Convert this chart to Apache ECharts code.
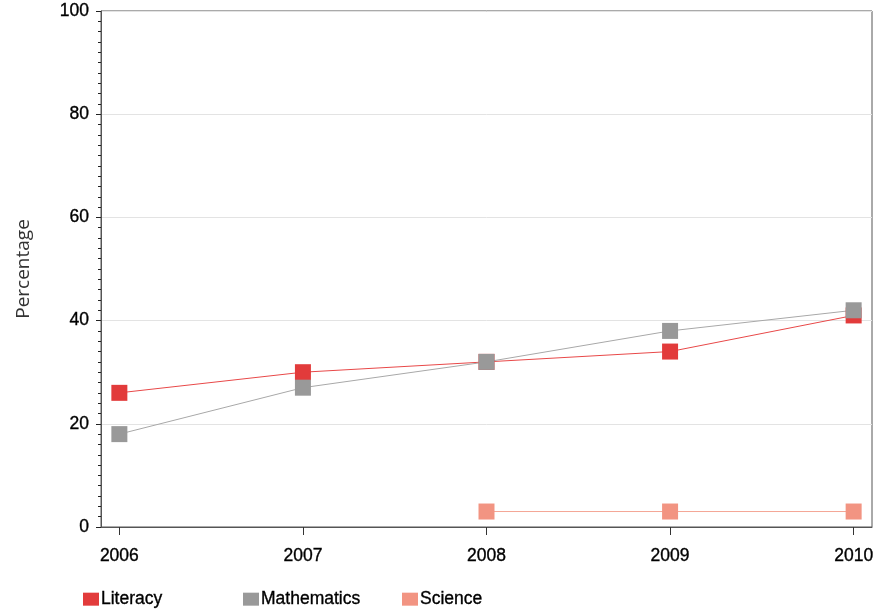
<!DOCTYPE html>
<html><head><meta charset="utf-8">
<script src="https://cdn.jsdelivr.net/npm/echarts@6/dist/echarts.min.js"></script>
<style>html,body{margin:0;padding:0;background:#fff}#c{width:884px;height:609px}</style>
</head><body><div id="c"></div>
<script>
const years = [2006, 2007, 2008, 2009, 2010];
const literacy = [26, 30, 32, 34, 41];
const mathematics = [18, 27, 32, 38, 42];
const science = [null, null, 3, 3, 3];
const seriesNames = ['Literacy', 'Mathematics', 'Science'];

const pairs = arr => years.map((y, i) => [y, arr[i]]).filter(p => p[1] !== null);
const font = 'Liberation Sans';
const txt = { color: '#000', fontSize: 17.5, fontFamily: font, textBorderColor: '#000', textBorderWidth: 0.35 };
const legendLefts = [78, 238, 397];
const chart = echarts.init(document.getElementById('c'));
chart.setOption({
  animation: false,
  textStyle: { fontFamily: font },
  grid: { left: 101, right: 12, top: 11, bottom: 82, show: true, borderColor: '#555', borderWidth: 1, backgroundColor: 'transparent' },
  xAxis: {
    type: 'value', min: 2005.9, max: 2010.1,
    splitLine: { show: false },
    axisLine: { show: true, lineStyle: { color: '#555', width: 1 } },
    axisTick: { show: true, customValues: years, length: 8, lineStyle: { color: '#333' } },
    axisLabel: Object.assign({ customValues: years, margin: 20, formatter: v => String(v) }, txt)
  },
  yAxis: {
    type: 'value', min: 0, max: 100, interval: 20,
    name: 'Percentage', nameLocation: 'middle', nameGap: 68,
    nameTextStyle: { color: '#333', fontSize: 19, fontFamily: 'Open Sans' },
    axisLine: { show: true, lineStyle: { color: '#555', width: 1 } },
    axisTick: { show: true, length: 5, lineStyle: { color: '#222' } },
    minorTick: { show: true, splitNumber: 10, length: 3, lineStyle: { color: '#222' } },
    splitLine: { show: true, lineStyle: { color: '#e3e3e3', width: 1 } },
    axisLabel: Object.assign({ margin: 12 }, txt)
  },
  legend: seriesNames.map((n, i) => ({
    left: legendLefts[i], top: 585, itemWidth: 16, itemHeight: 13, icon: 'rect',
    textStyle: Object.assign({ padding: [6, 0, 0, -3] }, txt),
    data: [n]
  })),
  series: [
    { name: seriesNames[0], type: 'line', data: pairs(literacy), symbol: 'rect', symbolSize: 16,
      itemStyle: { color: '#e23b3b' }, lineStyle: { color: '#e84848', width: 1 } },
    { name: seriesNames[1], type: 'line', data: pairs(mathematics), symbol: 'rect', symbolSize: 16,
      itemStyle: { color: '#999999' }, lineStyle: { color: '#a8a8a8', width: 1 } },
    { name: seriesNames[2], type: 'line', data: pairs(science), symbol: 'rect', symbolSize: 16,
      itemStyle: { color: '#f29482' }, lineStyle: { color: '#f4a696', width: 1 } }
  ]
});
</script></body></html>
